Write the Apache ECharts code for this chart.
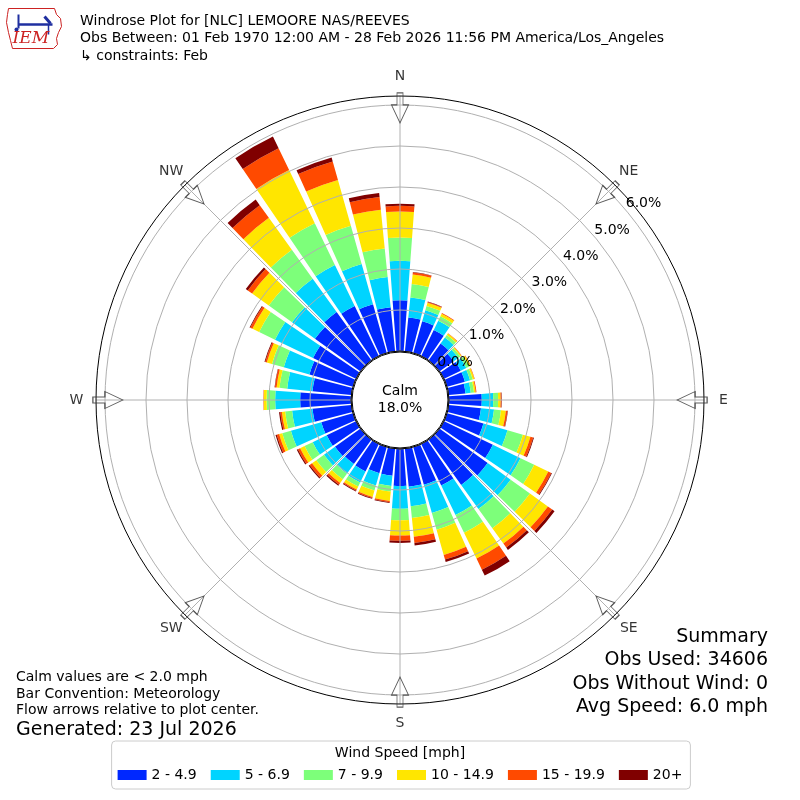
<!DOCTYPE html>
<html>
<head>
<meta charset="utf-8">
<script src="https://cdn.jsdelivr.net/npm/echarts@6/dist/echarts.min.js"></script>
<style>html,body{margin:0;padding:0;background:#fff}#chart{width:800px;height:800px}</style>
</head>
<body>
<div id="chart"></div>
<script>
// Direction bins (degrees, meteorological convention)
const directions = ['0','10','20','30','40','50','60','70','80','90','100','110','120','130','140','150','160','170',
  '180','190','200','210','220','230','240','250','260','270','280','290','300','310','320','330','340','350'];
// Speed bin labels
const speedBins = ['2 - 4.9', '5 - 6.9', '7 - 9.9', '10 - 14.9', '15 - 19.9', '20+'];
// Frequency (%) per direction for each speed bin
const spd2to5   = [1.24,0.83,0.80,0.70,0.50,0.42,0.45,0.45,0.41,0.80,0.79,0.92,1.32,1.44,1.36,1.12,0.95,0.93,0.90,0.66,0.66,0.74,0.73,0.76,0.79,0.80,0.95,1.24,0.95,1.10,1.16,1.36,1.45,1.35,1.23,1.08];
const spd5to7   = [0.96,0.49,0.28,0.25,0.18,0.14,0.15,0.13,0.13,0.28,0.32,0.61,0.75,0.69,0.72,0.80,0.72,0.48,0.56,0.25,0.31,0.30,0.29,0.33,0.38,0.77,0.50,0.61,0.62,0.65,1.03,0.69,1.00,1.11,1.02,0.74];
const spd7to10  = [0.57,0.33,0.11,0.12,0.08,0.06,0.08,0.07,0.08,0.12,0.17,0.39,0.37,0.58,0.58,0.48,0.42,0.29,0.28,0.14,0.13,0.11,0.17,0.23,0.22,0.22,0.17,0.21,0.19,0.30,0.43,0.70,0.87,1.13,0.97,0.70];
const spd10to15 = [0.63,0.23,0.08,0.07,0.04,0.03,0.04,0.04,0.04,0.06,0.12,0.19,0.38,0.54,0.46,0.70,0.64,0.46,0.37,0.23,0.16,0.08,0.11,0.13,0.12,0.08,0.08,0.07,0.07,0.13,0.18,0.50,0.96,1.44,1.16,0.95];
const spd15to20 = [0.14,0.05,0.02,0.02,0.01,0.01,0.01,0.01,0.02,0.02,0.04,0.07,0.08,0.13,0.12,0.30,0.12,0.15,0.13,0.03,0.03,0.03,0.05,0.07,0.06,0.06,0.04,0.01,0.04,0.04,0.06,0.13,0.38,0.59,0.47,0.31];
const spd20plus = [0.05,0.01,0.01,0.00,0.00,0.00,0.00,0.00,0.00,0.01,0.01,0.02,0.02,0.07,0.07,0.16,0.06,0.06,0.05,0.02,0.02,0.02,0.03,0.03,0.03,0.03,0.03,0.00,0.01,0.02,0.02,0.06,0.17,0.32,0.10,0.10];
const speedColors = ['#0028ff', '#00d4ff', '#7dff7a', '#ffe600', '#ff4a00', '#800000'];
// Compass labels and their angles
const compassLabels = ['N','NE','E','SE','S','SW','W','NW'];
const compassAngles = [0,45,90,135,180,225,270,315];
const calmPct = 18.0;
const radialTicks = [0,1,2,3,4,5,6];

const seriesData = [spd2to5, spd5to7, spd7to10, spd10to15, spd15to20, spd20plus];
const FONT = 'DejaVu Sans';

const chart = echarts.init(document.getElementById('chart'), null, {renderer: 'canvas'});

const barSeries = speedBins.map((name, i) => ({
  type: 'bar',
  name: name,
  coordinateSystem: 'polar',
  polarIndex: 0,
  stack: 'wind',
  data: seriesData[i],
  barCategoryGap: '15%',
  itemStyle: {color: speedColors[i]},
  silent: true,
  z: 2
}));

const option = {
  animation: false,
  backgroundColor: '#fff',
  textStyle: {fontFamily: FONT},
  title: [
    {
      text: 'Windrose Plot for [NLC] LEMOORE NAS/REEVES\nObs Between: 01 Feb 1970 12:00 AM - 28 Feb 2026 11:56 PM America/Los_Angeles\n\u21b3 constraints: Feb',
      left: 80, top: 12.5, padding: 0,
      textStyle: {fontFamily: FONT, fontSize: 14, fontWeight: 'normal', color: '#000', lineHeight: 17.5}
    },
    {
      text: 'Calm values are < 2.0 mph\nBar Convention: Meteorology\nFlow arrows relative to plot center.',
      left: 16, top: 669.5, padding: 0,
      textStyle: {fontFamily: FONT, fontSize: 14, fontWeight: 'normal', color: '#000', lineHeight: 16.5}
    },
    {
      text: 'Generated: 23 Jul 2026',
      left: 16, top: 718.5, padding: 0,
      textStyle: {fontFamily: FONT, fontSize: 19, fontWeight: 'normal', color: '#000', lineHeight: 23}
    },
    {
      text: 'Wind Speed [mph]',
      left: 'center', top: 745.5, padding: 0,
      textStyle: {fontFamily: FONT, fontSize: 14, fontWeight: 'normal', color: '#000', lineHeight: 16}
    }
  ],
  legend: {
    data: speedBins,
    left: 'center', top: 741,
    orient: 'horizontal',
    icon: 'rect',
    itemWidth: 29, itemHeight: 10, itemGap: 14,
    padding: [27, 8, 7, 6],
    borderColor: '#cccccc', borderWidth: 1, borderRadius: 4,
    backgroundColor: '#fff',
    selectedMode: false,
    textStyle: {fontFamily: FONT, fontSize: 14, color: '#000'},
    z: 1
  },
  polar: [
    {center: ['50%', '50%'], radius: [49, 295]},
    {center: ['50%', '50%'], radius: [49, 304]},
    {center: [403, 405.6], radius: [68, 314]},
    {center: ['50%', '50%'], radius: [0, 323.5]}
  ],
  angleAxis: [
    {
      polarIndex: 0, type: 'category', data: directions, startAngle: 95, clockwise: true, boundaryGap: true,
      axisLine: {show: false}, axisTick: {show: false}, axisLabel: {show: false}, splitLine: {show: false}
    },
    {
      polarIndex: 1, type: 'value', min: 0, max: 360, interval: 45, startAngle: 90, clockwise: true, z: 3,
      axisLine: {show: true, lineStyle: {color: '#000', width: 1}},
      axisTick: {show: false},
      splitLine: {show: true, lineStyle: {color: '#b0b0b0', width: 1}},
      axisLabel: {show: false}
    },
    {polarIndex: 2, type: 'value', min: 0, max: 360, startAngle: 40, show: false},
    {polarIndex: 3, type: 'value', min: 0, max: 360, startAngle: 90, clockwise: true, show: false}
  ],
  radiusAxis: [
    {
      polarIndex: 0, type: 'value', min: radialTicks[0], max: radialTicks[radialTicks.length - 1], interval: 1, z: 3,
      axisLine: {show: false}, axisTick: {show: false}, axisLabel: {show: false},
      splitLine: {show: true, lineStyle: {color: '#b0b0b0', width: 1}}
    },
    {polarIndex: 1, type: 'value', min: 0, max: 6.22, show: false},
    {
      polarIndex: 2, type: 'value', min: radialTicks[0], max: radialTicks[radialTicks.length - 1], interval: 1, z: 6,
      axisLine: {show: false}, axisTick: {show: false}, splitLine: {show: false},
      axisLabel: {
        show: true, margin: 0, align: 'center', verticalAlign: 'middle',
        fontFamily: FONT, fontSize: 14, color: '#000',
        formatter: v => v.toFixed(1) + '%'
      }
    },
    {polarIndex: 3, type: 'value', min: 0, max: 1, show: false}
  ],
  series: barSeries.concat([
    {
      type: 'scatter',
      coordinateSystem: 'polar',
      polarIndex: 1,
      symbol: 'path://M5.5,0 L11.5,0 L11.5,12 L17,12 L8.5,30 L0,12 L5.5,12 Z',
      symbolSize: [17, 30],
      data: compassAngles.map(a => ({value: [5.93, a], symbolRotate: -a})),
      itemStyle: {color: 'rgba(255,255,255,0)', borderColor: '#333', borderWidth: 1},
      silent: true,
      z: 4
    },
    {
      type: 'scatter',
      coordinateSystem: 'polar',
      polarIndex: 3,
      symbol: 'circle',
      symbolSize: 1,
      itemStyle: {color: 'rgba(255,255,255,0)'},
      data: compassAngles.map((a, i) => ({value: [1, a], name: compassLabels[i]})),
      label: {
        show: true, position: 'inside', formatter: p => p.name,
        fontFamily: FONT, fontSize: 14, color: '#000', align: 'center', verticalAlign: 'middle'
      },
      silent: true,
      z: 4
    },
    {
      type: 'pie',
      center: ['50%', '50%'],
      radius: [0, 48],
      silent: true,
      z: 5,
      label: {
        show: true, position: 'center', formatter: 'Calm\n' + calmPct.toFixed(1) + '%',
        fontFamily: FONT, fontSize: 14, color: '#000', lineHeight: 17
      },
      labelLine: {show: false},
      itemStyle: {color: '#fff', borderColor: '#000', borderWidth: 1},
      emphasis: {disabled: true},
      data: [{value: calmPct, name: 'Calm'}]
    }
  ]),
  graphic: [
    {
      type: 'text', x: 768, y: 625.5, silent: true,
      style: {
        text: 'Summary\nObs Used: 34606\nObs Without Wind: 0\nAvg Speed: 6.0 mph',
        align: 'right', verticalAlign: 'top', lineHeight: 23.3,
        font: '19px "DejaVu Sans"', fill: '#000'
      }
    },
    {
      type: 'group', left: 4, top: 6, silent: true,
      children: [
        {type: 'polyline', shape: {points: [[4,2],[50,2],[52,8],[56,12],[57,20],[54,26],[52,32],[53,38],[49,42],[8,42],[6,34],[4,26],[2,16],[3,8],[4,2]]},
          style: {stroke: '#cc2222', fill: 'none', lineWidth: 1}},
        {type: 'line', shape: {x1: 14, y1: 18, x2: 48, y2: 18}, style: {stroke: '#1f2fa0', lineWidth: 2.5}},
        {type: 'line', shape: {x1: 14, y1: 8, x2: 14, y2: 22}, style: {stroke: '#1f2fa0', lineWidth: 2}},
        {type: 'line', shape: {x1: 40, y1: 10, x2: 46, y2: 17}, style: {stroke: '#1f2fa0', lineWidth: 3}},
        {type: 'line', shape: {x1: 44, y1: 18, x2: 44, y2: 28}, style: {stroke: '#1f2fa0', lineWidth: 1.5}},
        {type: 'circle', shape: {cx: 12, cy: 23, r: 2}, style: {fill: '#1f2fa0'}},
        {type: 'text', left: 8, top: 24, style: {text: 'IEM', fill: '#cc2222', font: 'italic 17px "DejaVu Serif"'}}
      ]
    }
  ]
};

chart.setOption(option);
</script>
</body>
</html>
